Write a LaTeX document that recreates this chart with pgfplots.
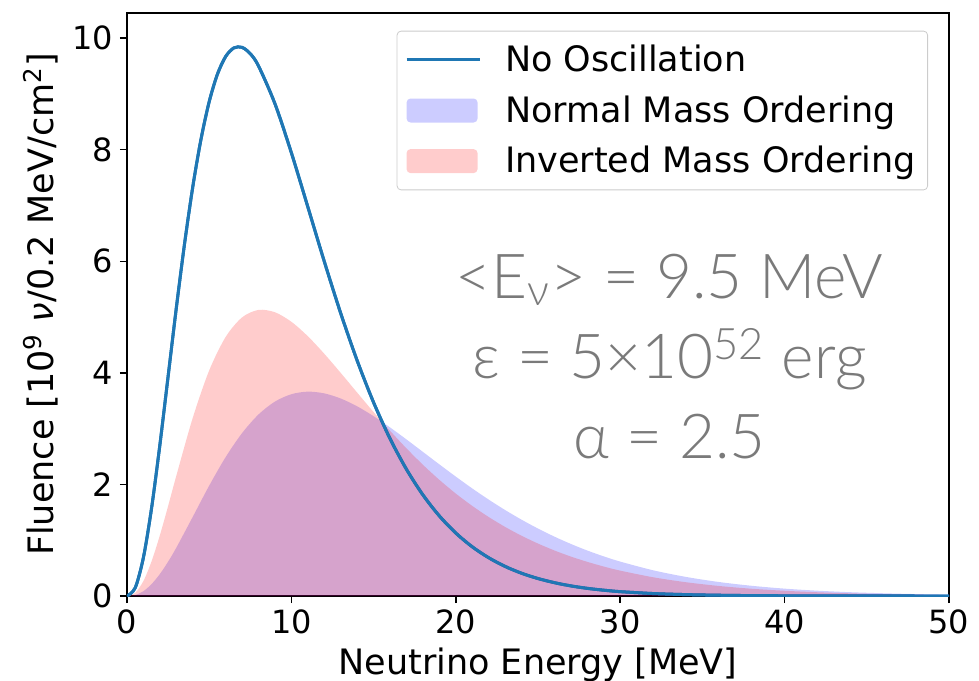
\documentclass[border=0pt]{standalone}
\usepackage{pgfplots}
\pgfplotsset{compat=1.18}
\usepackage{fontspec}
\setmainfont{DejaVu Sans}
\newfontfamily\gill{Lato Light}
\definecolor{mplblue}{HTML}{1F77B4}
\definecolor{annot}{HTML}{7A7A7A}
\pgfplotsset{
  linelegend/.style={legend image code/.code={\draw[##1] (0pt,0pt) -- (36.5pt,0pt);}},
  arealegend/.style={legend image code/.code={\fill[##1] (0pt,-6pt) rectangle (35.5pt,6pt);}},
}
\begin{document}
\begin{tikzpicture}
\useasboundingbox (-63.5pt,-42pt) rectangle (426pt,298pt);
\begin{axis}[
  scale only axis, width=411pt, height=291.5pt,
  xmin=0, xmax=50, ymin=0, ymax=10.45,
  xtick={0,10,...,50}, ytick={0,2,...,10},
  tick align=outside, major tick length=3.5pt, tick pos=left,
  axis line style={line width=0.75pt},
  every tick/.style={black, line width=0.75pt},
  tick label style={font=\fontsize{16}{19}\selectfont},
  label style={font=\fontsize{17.5}{21}\selectfont},
  /pgf/number format/assume math mode=true,
  xlabel={Neutrino Energy [MeV]},
  ylabel={Fluence [10\textsuperscript{9} \textit{ν}/0.2 MeV/cm\textsuperscript{2}]},
  legend style={at={(rel axis cs:0.9745,0.9696)}, anchor=north east,
    draw=black!20, rounded corners=2pt, fill=white,
    font=\fontsize{17.5}{21}\selectfont, inner xsep=4pt, inner ysep=5pt,
    row sep=6.5pt,
    /tikz/every odd column/.append style={column sep=10pt}},
  legend cell align=left,
]
\addplot[mplblue, line width=1.5pt, smooth, linelegend] coordinates {
(0,0) (0.5,0.147) (1,0.692) (1.5,1.586) (2,2.708) (2.5,3.934) (3,5.162) (3.5,6.312)
(4,7.331) (4.5,8.186) (5,8.860) (5.5,9.352) (6,9.669) (6.5,9.824) (7,9.834) (7.5,9.720)
(8,9.500) (9,8.823) (10,7.943) (11,6.974) (12,5.997) (13,5.068) (14,4.220) (15,3.469)
(16,2.820) (17,2.271) (18,1.812) (19,1.435) (20,1.129) (21,0.882) (22,0.686) (23,0.530)
(24,0.408) (25,0.313) (26,0.239) (27,0.181) (28,0.137) (29,0.104) (30,0.078) (32,0.044)
(34,0.025) (36,0.014) (38,0.007) (40,0.004) (42,0.002) (44,0.001) (46,0.001) (48,0.000) (50,0.000)};
\addlegendentry{No Oscillation}
\addplot[fill=blue, fill opacity=0.2, draw=none, smooth, arealegend] coordinates {
(0,0) (0.5,0.017) (1,0.087) (1.5,0.215) (2,0.394) (2.5,0.615) (3,0.866) (4,1.419)
(5,1.978) (6,2.489) (7,2.920) (8,3.254) (9,3.485) (10,3.617) (11,3.663) (12,3.632)
(13,3.540) (14,3.400) (15,3.223) (16,3.022) (17,2.806) (18,2.583) (19,2.359) (20,2.140)
(21,1.928) (22,1.728) (23,1.541) (24,1.368) (25,1.209) (26,1.064) (27,0.933) (28,0.815)
(29,0.710) (30,0.617) (32,0.461) (34,0.342) (36,0.251) (38,0.183) (40,0.132) (42,0.095)
(44,0.068) (46,0.049) (48,0.034) (50,0.024)} \closedcycle;
\addlegendentry{Normal Mass Ordering}
\addplot[fill=red, fill opacity=0.2, draw=none, smooth, arealegend] coordinates {
(0,0) (0.5,0.056) (1,0.269) (1.5,0.626) (2,1.088) (2.5,1.611) (3,2.155) (4,3.193)
(5,4.043) (6,4.643) (7,4.994) (8,5.128) (9,5.086) (10,4.915) (11,4.656) (12,4.342)
(13,3.999) (14,3.646) (15,3.297) (16,2.962) (17,2.646) (18,2.352) (19,2.082) (20,1.836)
(21,1.615) (22,1.416) (23,1.238) (24,1.080) (25,0.940) (26,0.816) (27,0.707) (28,0.612)
(29,0.528) (30,0.455) (32,0.336) (34,0.247) (36,0.180) (38,0.130) (40,0.094) (42,0.067)
(44,0.048) (46,0.034) (48,0.024) (50,0.017)} \closedcycle;
\addlegendentry{Inverted Mass Ordering}
\addplot[mplblue, line width=1.5pt, smooth, forget plot] coordinates {
(0,0) (0.5,0.147) (1,0.692) (1.5,1.586) (2,2.708) (2.5,3.934) (3,5.162) (3.5,6.312)
(4,7.331) (4.5,8.186) (5,8.860) (5.5,9.352) (6,9.669) (6.5,9.824) (7,9.834) (7.5,9.720)
(8,9.500) (9,8.823) (10,7.943) (11,6.974) (12,5.997) (13,5.068) (14,4.220) (15,3.469)
(16,2.820) (17,2.271) (18,1.812) (19,1.435) (20,1.129) (21,0.882) (22,0.686) (23,0.530)
(24,0.408) (25,0.313) (26,0.239) (27,0.181) (28,0.137) (29,0.104) (30,0.078) (32,0.044)
(34,0.025) (36,0.014) (38,0.007) (40,0.004) (42,0.002) (44,0.001) (46,0.001) (48,0.000) (50,0.000)};
\node[font=\gill\fontsize{31}{40}\selectfont, text=annot, align=center]
  at (axis cs:33,4.3) {<E\textsubscript{ν}> = 9.5 MeV\\ ε = 5×10\textsuperscript{52} erg\\ α = 2.5};
\end{axis}
\end{tikzpicture}
\end{document}
